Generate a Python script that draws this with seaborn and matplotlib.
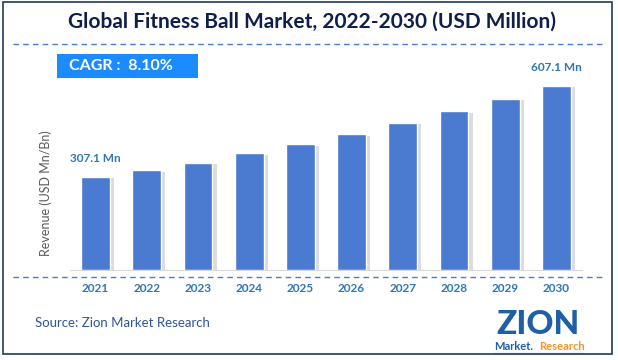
import matplotlib
matplotlib.use("Agg")
import matplotlib.pyplot as plt
import matplotlib.patheffects as pe
from matplotlib.lines import Line2D
from matplotlib.patches import Rectangle
import pandas as pd
import seaborn as sns

# chart data
years = ["2021", "2022", "2023", "2024", "2025", "2026", "2027", "2028", "2029", "2030"]
revenue = [307.1, 328, 354, 384, 414, 447, 486, 523, 565, 607.1]
first_label = "307.1 Mn"
last_label = "607.1 Mn"
cagr_text = "CAGR :  8.10%"

sns.set_style("white")
plt.rcParams["font.family"] = ["Lato", "DejaVu Sans"]

BAR_BLUE = "#4a7bd0"
LABEL_BLUE = "#2e75b6"
NAVY = "#0f1f4b"

df = pd.DataFrame({"year": years, "revenue": revenue})

fig = plt.figure(figsize=(6.18, 3.6), dpi=100)
ax = fig.add_axes([70 / 618, 0.25, 512 / 618, 0.59])

sns.barplot(data=df, x="year", y="revenue", color=BAR_BLUE, width=0.56,
            saturation=1, ax=ax)
for bar in ax.patches:
    bar.set_path_effects([pe.SimplePatchShadow(offset=(3, -1), shadow_rgbFace="#8c8c8c", alpha=0.3),
                          pe.Normal()])

ax.set_ylim(0, 700)
ax.set_xlim(-0.5, len(years) - 0.5)
ax.set_yticks([])
ax.set_xlabel("")
ax.set_ylabel("Revenue (USD Mn/Bn)", fontsize=9, color="#595959")
ax.yaxis.set_label_coords(-0.036, 0.36)
for side in ["top", "right", "left"]:
    ax.spines[side].set_visible(False)
ax.spines["bottom"].set_color("#d9d9d9")
ax.tick_params(axis="x", length=0, pad=9, labelsize=8.5, labelcolor=LABEL_BLUE)
for t in ax.get_xticklabels():
    t.set_fontweight("bold")

# end labels
ax.annotate(first_label, (0, revenue[0]), xytext=(0, 9), textcoords="offset points",
            ha="center", va="bottom", fontsize=8.5, fontweight="bold", color=LABEL_BLUE)
ax.annotate(last_label, (len(years) - 1, revenue[-1]), xytext=(0, 9), textcoords="offset points",
            ha="center", va="bottom", fontsize=8.5, fontweight="bold", color=LABEL_BLUE)

# title and decorations
fig.text(312 / 618, 1 - 22 / 360, "Global Fitness Ball Market, 2022-2030 (USD Million)",
         ha="center", va="center", fontsize=15, fontweight="bold", color=NAVY)
fig.add_artist(Line2D([13 / 618, 605 / 618], [1 - 44 / 360] * 2, transform=fig.transFigure,
                      color=BAR_BLUE, lw=1, ls=(0, (4, 3))))
fig.add_artist(Line2D([13 / 618, 605 / 618], [1 - 277 / 360] * 2, transform=fig.transFigure,
                      color=BAR_BLUE, lw=1, ls=(0, (4, 3))))
fig.add_artist(Rectangle((57 / 618, 1 - 78 / 360), 141 / 618, 24 / 360, transform=fig.transFigure,
                         facecolor="#1a8cff", edgecolor="none"))
fig.text(69 / 618, 1 - 66 / 360, cagr_text, ha="left", va="center", fontsize=11.5,
         fontweight="bold", color="white")

fig.text(35 / 618, 1 - 323 / 360, "Source: Zion Market Research", ha="left", va="center",
         fontsize=9.5, color="#2f5597")

# logo (text approximation)
fig.text(538 / 618, 1 - 324 / 360, "ZION", ha="center", va="center", fontsize=24,
         fontweight="black", color="#1f5fa8")
fig.text(514 / 618, 1 - 347 / 360, "Market.", ha="center", va="center", fontsize=8,
         fontweight="bold", color="#1f5fa8")
fig.text(562 / 618, 1 - 347 / 360, "Research", ha="center", va="center", fontsize=8,
         fontweight="bold", color="#f0932b")
fig.add_artist(Line2D([494 / 618, 584 / 618], [1 - 353 / 360] * 2, transform=fig.transFigure,
                      color="#1f5fa8", lw=0.8))

# outer frame
fig.add_artist(Rectangle((3 / 618, 1 - 354 / 360), 609 / 618, 352 / 360, transform=fig.transFigure,
                         facecolor="none", edgecolor="#1f3a5f", lw=1.2))

fig.savefig("out.png", dpi=100)
